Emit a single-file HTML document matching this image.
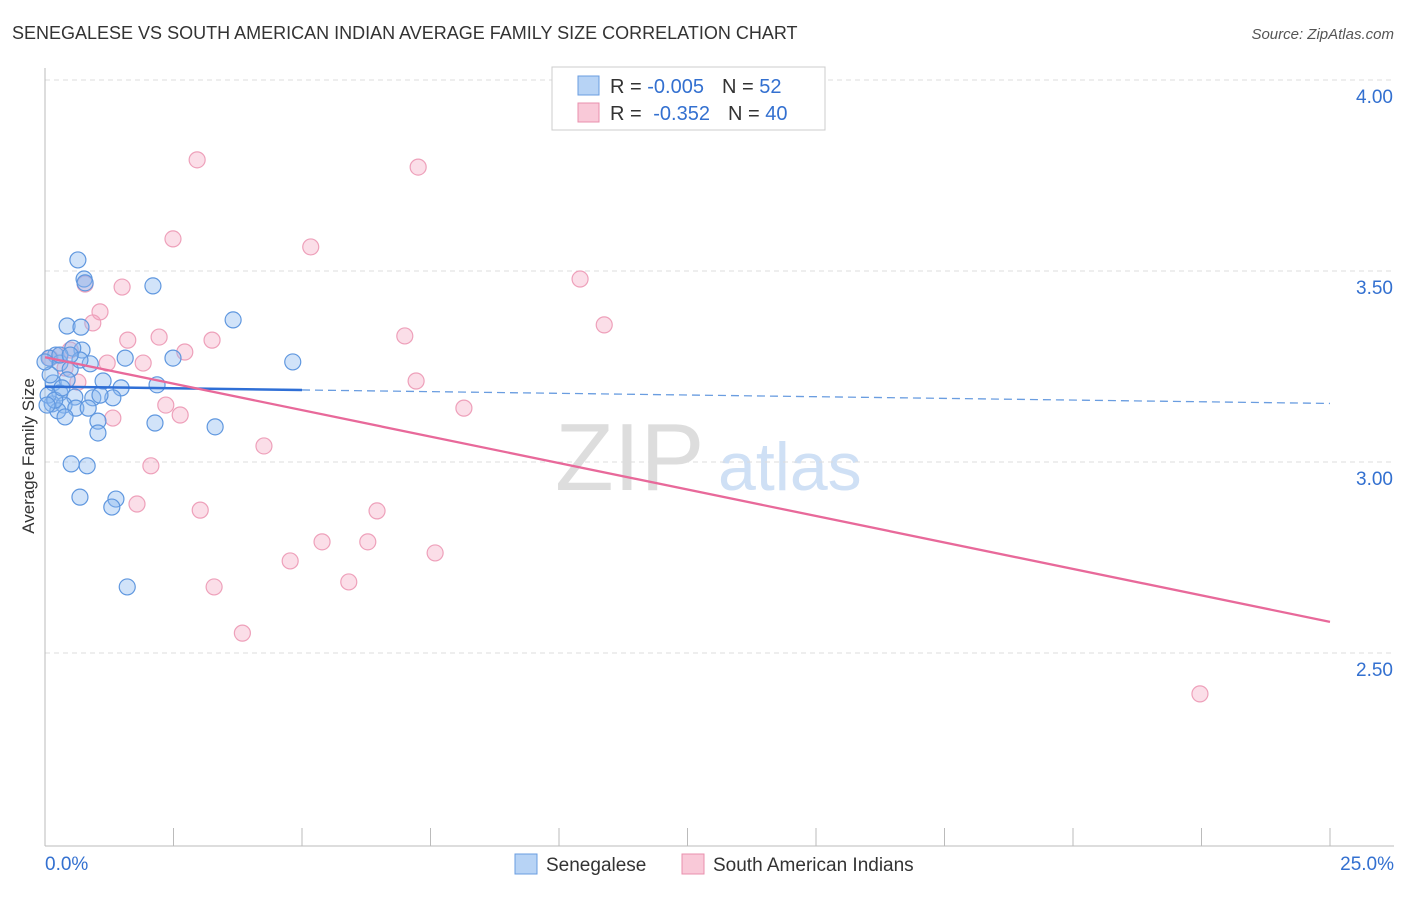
<!DOCTYPE html>
<html><head><meta charset="utf-8"><style>
body{margin:0;background:#fff;font-family:"Liberation Sans",sans-serif}
svg text{font-family:"Liberation Sans",sans-serif}
</style></head><body>
<svg id="chart" width="1406" height="892">
<text x="12" y="39" font-size="18" fill="#333">SENEGALESE VS SOUTH AMERICAN INDIAN AVERAGE FAMILY SIZE CORRELATION CHART</text>
<text x="1394" y="39" font-size="15" fill="#555" font-style="italic" text-anchor="end">Source: ZipAtlas.com</text>
<text transform="translate(34,456) rotate(-90)" font-size="17" fill="#333" text-anchor="middle">Average Family Size</text>
<text x="555" y="490" font-size="96" fill="#ddd" font-family="Liberation Serif">ZIP</text>
<text x="718" y="490" font-size="68" fill="#cfe0f5">atlas</text>
<g id="grid"></g><g id="axes"></g><g id="marks"></g>
<g>
<rect x="552" y="67" width="273" height="63" fill="#fff" stroke="#ccc"/>
<rect x="578" y="76" width="21" height="19" fill="#b7d3f5" stroke="#6a9de0"/>
<rect x="578" y="103" width="21" height="19" fill="#f9c9d8" stroke="#e990ae"/>
<text x="610" y="93" font-size="20" fill="#333">R = <tspan fill="#3370d0">-0.005</tspan><tspan dx="18">N = </tspan><tspan fill="#3370d0">52</tspan></text>
<text x="610" y="120" font-size="20" fill="#333">R = <tspan dx="6" fill="#3370d0">-0.352</tspan><tspan dx="18">N = </tspan><tspan fill="#3370d0">40</tspan></text>
</g>
<g>
<rect x="515" y="854" width="22" height="20" fill="#b7d3f5" stroke="#6a9de0"/>
<text x="546" y="871" font-size="19" fill="#333">Senegalese</text>
<rect x="682" y="854" width="22" height="20" fill="#f9c9d8" stroke="#e990ae"/>
<text x="713" y="871" font-size="19" fill="#333">South American Indians</text>
</g>
</svg>
<script>
const yTicks=[4.0,3.5,3.0,2.5];
const yTickLabels=["4.00","3.50","3.00","2.50"];
const xTickVals=[0,2.5,5,7.5,10,12.5,15,17.5,20,22.5,25];
const senX=[0.64,0.76,0.78,2.10,3.66,0.43,0.70,4.82,1.56,2.49,0.72,0.54,0.21,0.08,0.29,0.88,0.49,0.16,1.13,1.48,2.18,0.29,0.58,0.93,1.32,0.14,0.37,0.60,0.84,0.25,1.03,2.14,3.31,1.03,0.39,0.06,0.51,0.82,0.68,1.38,1.30,1.60,0.43,0.10,0.29,0.00,0.19,0.33,0.68,0.49,1.07,0.04];
const senY=[3.529,3.479,3.469,3.461,3.372,3.356,3.353,3.262,3.272,3.272,3.293,3.298,3.280,3.272,3.259,3.257,3.243,3.207,3.212,3.194,3.202,3.181,3.170,3.168,3.168,3.152,3.149,3.141,3.141,3.134,3.107,3.102,3.092,3.076,3.118,3.175,2.995,2.990,2.908,2.903,2.882,2.673,3.215,3.228,3.280,3.262,3.162,3.194,3.267,3.280,3.175,3.149];
const saiX=[2.96,7.26,2.49,5.17,10.41,1.50,0.78,1.07,0.93,10.88,7.00,2.22,1.61,3.25,2.72,1.91,1.21,0.29,7.22,0.64,2.35,2.63,1.32,8.15,4.26,2.06,1.79,3.02,6.46,5.39,6.28,7.59,4.77,5.91,3.29,3.84,22.47,0.49,0.10,0.39];
const saiY=[3.791,3.772,3.584,3.563,3.479,3.458,3.466,3.393,3.364,3.359,3.330,3.327,3.319,3.319,3.288,3.259,3.259,3.280,3.212,3.209,3.149,3.123,3.115,3.141,3.042,2.990,2.890,2.874,2.872,2.791,2.791,2.762,2.741,2.686,2.673,2.552,2.393,3.293,3.272,3.246];
const NS="http://www.w3.org/2000/svg";
const x0=45,x1=1330,yTop=80,pxPerUnit=382;
const X=v=>x0+v/25*(x1-x0);
const Y=v=>yTop+(4-v)*pxPerUnit;
function mk(tag,attrs,parent){const e=document.createElementNS(NS,tag);for(const k in attrs)e.setAttribute(k,attrs[k]);parent.appendChild(e);return e;}
const grid=document.getElementById('grid'),axes=document.getElementById('axes'),marks=document.getElementById('marks');
yTicks.forEach((t,i)=>{
 const l=mk('line',{x1:45,x2:1394,y1:Y(t),y2:Y(t),stroke:'#ddd','stroke-dasharray':'5,4'},grid);
 
 
 const tx=mk('text',{x:1393,y:Y(t)+23,'font-size':19,fill:'#3370d0','text-anchor':'end'},axes);
 tx.textContent=yTickLabels[i];
 
 
});
const ya=mk('line',{x1:45,x2:45,y1:68,y2:846,stroke:'#bbb'},axes);


const xa=mk('line',{x1:45,x2:1394,y1:846,y2:846,stroke:'#bbb'},axes);


xTickVals.forEach(v=>{const t=mk('line',{x1:X(v),x2:X(v),y1:828,y2:846,stroke:'#bbb'},axes);
 
 });
const xl0=mk('text',{x:45,y:870,'font-size':19,fill:'#3370d0'},axes);xl0.textContent='0.0%';


const xl1=mk('text',{x:1394,y:870,'font-size':19,fill:'#3370d0','text-anchor':'end'},axes);xl1.textContent='25.0%';


saiX.forEach((v,i)=>{const c=mk('circle',{cx:X(v),cy:Y(saiY[i]),r:8,fill:'rgba(244,160,190,0.35)',stroke:'#eea0ba','stroke-width':1.2},marks);
 
 });
senX.forEach((v,i)=>{const c=mk('circle',{cx:X(v),cy:Y(senY[i]),r:8,fill:'rgba(140,185,240,0.4)',stroke:'#5f97df','stroke-width':1.2},marks);
 
 });
function fit(xs,ys){const n=xs.length,mx=xs.reduce((a,b)=>a+b)/n,my=ys.reduce((a,b)=>a+b)/n;let sxy=0,sxx=0;xs.forEach((x,i)=>{sxy+=(x-mx)*(ys[i]-my);sxx+=(x-mx)**2});const b=sxy/sxx;return [my-b*mx,b];}
const [sa,sb]=fit(senX,senY);
const bl1=mk('line',{x1:X(0),y1:Y(sa),x2:X(5),y2:Y(sa+sb*5),stroke:'#2f6fd6','stroke-width':2.5},marks);


const bl2=mk('line',{x1:X(5),y1:Y(sa+sb*5),x2:X(25),y2:Y(sa+sb*25),stroke:'#6a9de0','stroke-width':1.3,'stroke-dasharray':'8,5'},marks);


const [pa,pb]=fit(saiX,saiY);
const pl=mk('line',{x1:X(0),y1:Y(pa),x2:X(25),y2:Y(pa+pb*25),stroke:'#e8699a','stroke-width':2.3},marks);


</script>
</body></html>
